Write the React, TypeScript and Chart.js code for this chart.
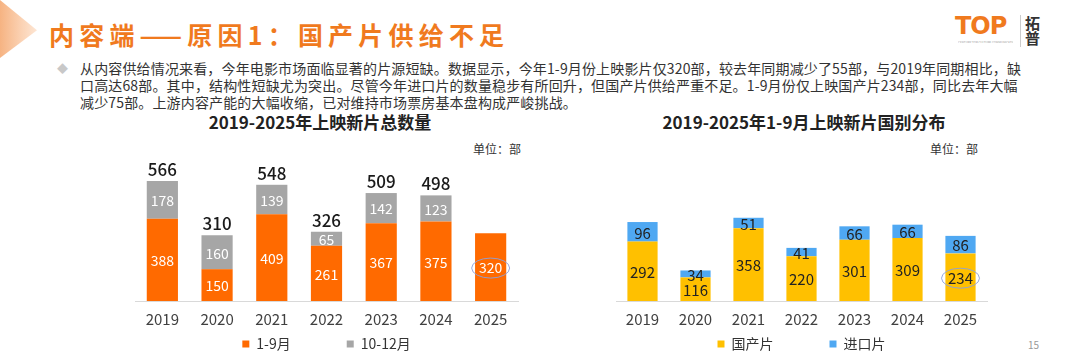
import React, { useEffect, useRef } from "react";
import { Chart, registerables } from "chart.js";

Chart.register(...registerables);

const years = ["2019", "2020", "2021", "2022", "2023", "2024", "2025"];
const janSep = [388, 150, 409, 261, 367, 375, 320];
const octDec: (number | null)[] = [178, 160, 139, 65, 142, 123, null];
const domestic = [292, 116, 358, 220, 301, 309, 234];
const imported = [96, 34, 51, 41, 66, 66, 86];

const FONT = '"Microsoft YaHei", "Noto Sans CJK SC", "Noto Sans", sans-serif';
const ORANGE = "#FF6A00";
const GRAY = "#A6A6A6";
const YELLOW = "#FFC000";
const BLUE = "#4FA8F2";

function makeLabelPlugin(opts: {
  colors: string[];
  size: number;
  totals: boolean;
  circleIndex: number;
}) {
  return {
    id: "barLabels",
    afterDatasetsDraw(chart: any) {
      const ctx = chart.ctx;
      ctx.save();
      ctx.textAlign = "center";
      ctx.textBaseline = "middle";
      chart.data.datasets.forEach((ds: any, di: number) => {
        const meta = chart.getDatasetMeta(di);
        meta.data.forEach((el: any, i: number) => {
          const v = ds.data[i];
          if (v == null) return;
          const y = (el.y + el.base) / 2;
          ctx.fillStyle = opts.colors[di];
          ctx.font = `${opts.size}px ${FONT}`;
          ctx.fillText(String(v), el.x, y + 1);
          if (di === 0 && i === opts.circleIndex) {
            ctx.beginPath();
            ctx.strokeStyle = "rgba(140,160,220,0.9)";
            ctx.lineWidth = 1;
            ctx.ellipse(el.x, y + 1, 19, 10, 0, 0, Math.PI * 2);
            ctx.stroke();
          }
        });
      });
      if (opts.totals) {
        const m0 = chart.getDatasetMeta(0);
        const m1 = chart.getDatasetMeta(1);
        ctx.fillStyle = "#1a1a1a";
        ctx.font = `500 17px ${FONT}`;
        ctx.textBaseline = "bottom";
        m1.data.forEach((el: any, i: number) => {
          const b = chart.data.datasets[1].data[i];
          if (b == null) return;
          const a = chart.data.datasets[0].data[i];
          ctx.fillText(String(a + b), m0.data[i].x, el.y - 3);
        });
      }
      ctx.restore();
    },
  };
}

function BarChart(props: {
  a: number[];
  b: (number | null)[];
  la: string;
  lb: string;
  ca: string;
  cb: string;
  max: number;
  labelColors: string[];
  labelSize: number;
  totals: boolean;
  padding: any;
  style: React.CSSProperties;
}) {
  const ref = useRef<HTMLCanvasElement>(null);
  useEffect(() => {
    const chart = new Chart(ref.current as HTMLCanvasElement, {
      type: "bar",
      data: {
        labels: years,
        datasets: [
          { label: props.la, data: props.a, backgroundColor: props.ca, barPercentage: 0.57, categoryPercentage: 1 },
          { label: props.lb, data: props.b as any, backgroundColor: props.cb, barPercentage: 0.57, categoryPercentage: 1 },
        ],
      },
      options: {
        animation: false,
        responsive: false,
        layout: { padding: props.padding },
        scales: {
          x: {
            stacked: true,
            grid: { display: false, drawTicks: false },
            border: { display: true, color: "#D9D9D9", width: 1 },
            ticks: { color: "#404040", font: { family: FONT, size: 15, lineHeight: 0.8 }, padding: 12 },
          },
          y: { stacked: true, display: false, min: 0, max: props.max },
        },
        plugins: {
          tooltip: { enabled: false },
          legend: {
            position: "bottom",
            labels: {
              boxWidth: 7,
              boxHeight: 7,
              padding: 0,
              color: "#333",
              font: { family: FONT, size: 14 },
              generateLabels(chart: any) {
                const items = (Chart as any).defaults.plugins.legend.labels.generateLabels(chart);
                items.forEach((it: any, i: number) => {
                  it.lineWidth = 0;
                  if (i === 0) it.text = it.text + "\u2003\u2003\u2003\u2003";
                });
                return items;
              },
            },
          },
        },
      } as any,
      plugins: [makeLabelPlugin({ colors: props.labelColors, size: props.labelSize, totals: props.totals, circleIndex: 6 })],
    });
    return () => chart.destroy();
  }, []);
  return <canvas ref={ref} width={400} height={228} style={{ position: "absolute", ...props.style }} />;
}

export default function App() {
  return (
    <div
      style={{
        position: "absolute",
        left: 0,
        top: 0,
        width: 1080,
        height: 361,
        overflow: "hidden",
        background: "#fff",
        fontFamily: FONT,
      }}
    >
      <div
        style={{
          position: "absolute",
          left: 0,
          top: 0,
          width: 37,
          height: 58,
          clipPath: "polygon(0 0, 100% 52%, 0 100%)",
          background: "linear-gradient(90deg, #F6B382 0%, #FBD3B5 60%, #FDE6D4 100%)",
        }}
      />
      <div
        style={{
          position: "absolute",
          left: 49,
          top: 17,
          fontSize: 25,
          lineHeight: "34px",
          letterSpacing: 5.2,
          color: "#F07A1E",
          fontWeight: 700,
          whiteSpace: "nowrap",
        }}
      >
        内容端——原因1：国产片供给不足
      </div>
      {/* logo */}
      <div style={{ position: "absolute", left: 955, top: 12, color: "#F07A1E", fontWeight: 900, fontSize: 24, lineHeight: "28px", fontFamily: '"DejaVu Sans", sans-serif', letterSpacing: -1 }}>
        TOP
      </div>
      <div style={{ position: "absolute", left: 958, top: 41, width: 55, height: 2, fontSize: 3, color: "#999", whiteSpace: "nowrap", overflow: "hidden" }}>
        CENTURY TOP CULTURE COMMUNICATION
      </div>
      <div style={{ position: "absolute", left: 1020, top: 15, width: 1, height: 32, background: "#ccc" }} />
      <div style={{ position: "absolute", left: 1025, top: 15, fontSize: 15, lineHeight: "15px", color: "#333", fontWeight: 700, width: 16 }}>
        拓<br />普
      </div>
      {/* paragraph */}
      <div style={{ position: "absolute", left: 57, top: 60, fontSize: 11, color: "#C8C8C8" }}>◆</div>
      <div
        style={{
          position: "absolute",
          left: 80,
          top: 60,
          fontSize: 14,
          lineHeight: "17px",
          letterSpacing: 0.15,
          color: "#333",
          whiteSpace: "nowrap",
        }}
      >
        从内容供给情况来看，今年电影市场面临显著的片源短缺。数据显示，今年1-9月份上映影片仅320部，较去年同期减少了55部，与2019年同期相比，缺
        <br />
        口高达68部。其中，结构性短缺尤为突出。尽管今年进口片的数量稳步有所回升，但国产片供给严重不足。1-9月份仅上映国产片234部，同比去年大幅
        <br />
        减少75部。上游内容产能的大幅收缩，已对维持市场票房基本盘构成严峻挑战。
      </div>
      <div style={{ position: "absolute", left: 120, width: 400, top: 111, textAlign: "center", fontSize: 17, lineHeight: "22px", fontWeight: 700, color: "#222", whiteSpace: "nowrap" }}>
        2019-2025年上映新片总数量
      </div>
      <div style={{ position: "absolute", left: 594, width: 420, top: 111, textAlign: "center", fontSize: 17, lineHeight: "22px", fontWeight: 700, color: "#222", whiteSpace: "nowrap" }}>
        2019-2025年1-9月上映新片国别分布
      </div>
      <div style={{ position: "absolute", left: 473, top: 141, fontSize: 12, lineHeight: "16px", color: "#333" }}>单位：部</div>
      <div style={{ position: "absolute", left: 930, top: 141, fontSize: 12, lineHeight: "16px", color: "#333" }}>单位：部</div>
      <div style={{ position: "absolute", left: 1028, top: 337, fontSize: 10, color: "#999" }}>15</div>

      <BarChart
        a={janSep}
        b={octDec}
        la="1-9月"
        lb="10-12月"
        ca={ORANGE}
        cb={GRAY}
        max={712}
        labelColors={["#fff", "#fff"]}
        labelSize={14}
        totals={true}
        padding={{ left: 5, right: 12, top: 10, bottom: 7 }}
        style={{ left: 130, top: 140 }}
      />
      <BarChart
        a={domestic}
        b={imported}
        la="国产片"
        lb="进口片"
        ca={YELLOW}
        cb={BLUE}
        max={742}
        labelColors={["#222", "#222"]}
        labelSize={15}
        totals={false}
        padding={{ left: 6, right: 23, top: 10, bottom: 7 }}
        style={{ left: 610, top: 140 }}
      />
    </div>
  );
}
